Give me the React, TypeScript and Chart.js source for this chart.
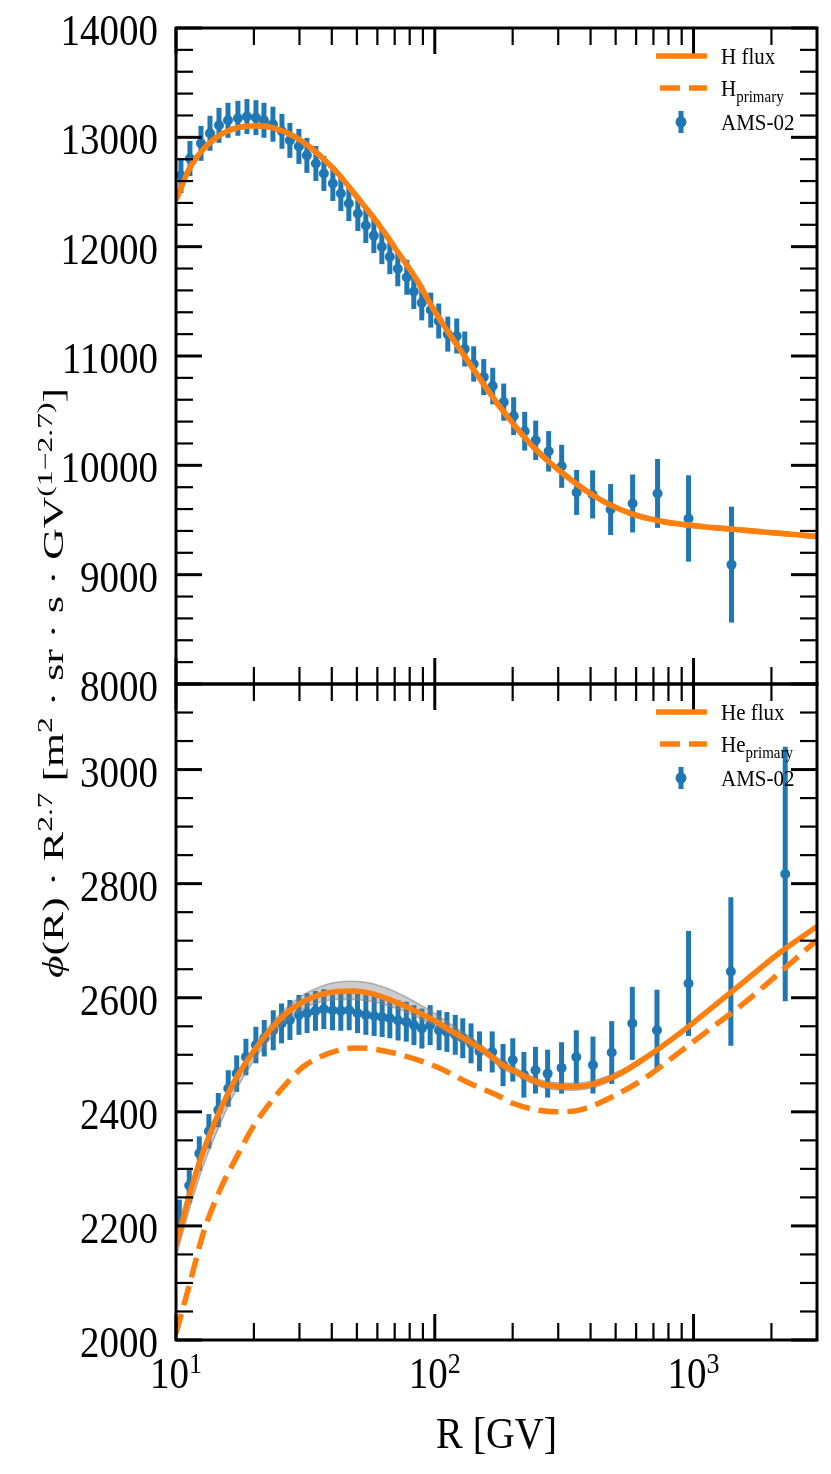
import React, { useEffect, useRef } from 'react';
import { Chart, ChartConfiguration, Plugin, registerables } from 'chart.js';

Chart.register(...registerables);

const BLUE = '#1f77b4';
const ORANGE = '#ff7f0e';
const FONT = '"Liberation Serif", "DejaVu Serif", serif';
// the reference text is slightly stretched vertically
const TEXT_SY = 1.13;

/* ---------- top panel: H ---------- */
const hDataR = [10.45, 11.32, 12.49, 13.53, 14.66, 15.88, 17.35, 18.8, 20.37, 21.87, 23.69, 25.67, 27.55, 29.85, 32.05, 34.72, 37.27, 40.38, 43.36, 46.56, 50.44, 54.15, 58.15, 62.44, 67.04, 71.96, 77.98, 82.98, 89.08, 96.52, 103.6, 112.3, 121.6, 130.6, 141.4, 154.6, 167.5, 184.7, 201.8, 222.6, 245.5, 275.5, 309.3, 353.4, 407.4, 478.1, 581.6, 726.1, 956.6, 1402];
const hDataFlux = [12651, 12807, 12945, 13037, 13110, 13156, 13174, 13190, 13180, 13156, 13120, 13055, 12972, 12917, 12835, 12761, 12670, 12578, 12486, 12394, 12303, 12193, 12101, 12000, 11908, 11798, 11720, 11590, 11486, 11420, 11320, 11200, 11183, 11064, 10927, 10807, 10725, 10578, 10450, 10312, 10229, 10128, 9991, 9752, 9734, 9596, 9651, 9743, 9514, 9092];
const hDataErr = [160, 160, 160, 160, 160, 160, 160, 160, 160, 160, 160, 160, 160, 160, 160, 160, 160, 160, 160, 160, 160, 160, 160, 160, 160, 160, 160, 160, 160, 160, 160, 160, 160, 160, 162, 165, 167, 170, 173, 177, 180, 185, 197, 206, 220, 233, 265, 315, 395, 530];

const hModelR = [10, 11.3, 12.7, 14.8, 17.2, 20.5, 24.5, 29.3, 35, 42, 50, 60, 73, 85, 98, 133, 178, 239, 323, 433, 581, 787, 1055, 1414, 1914, 3000];
const hModelFlux = [12430, 12720, 12886, 13023, 13087, 13105, 13078, 12995, 12858, 12676, 12457, 12219, 11930, 11700, 11443, 10968, 10539, 10174, 9900, 9690, 9553, 9479, 9443, 9416, 9388, 9350];
// H primary lies under the H flux curve
const hPrimaryFlux = [12430, 12720, 12886, 13023, 13087, 13105, 13078, 12995, 12858, 12676, 12457, 12219, 11930, 11700, 11443, 10968, 10539, 10174, 9900, 9690, 9553, 9479, 9443, 9416, 9388, 9350];

/* ---------- bottom panel: He ---------- */
const heDataR = [10.3, 11.25, 12.3, 13.4, 14.57, 15.92, 17.16, 18.63, 20.36, 21.93, 23.76, 25.58, 27.56, 29.86, 32.1, 34.59, 37.26, 40.26, 43.35, 46.69, 50.3, 54.17, 58.31, 62.62, 67.04, 72.14, 77.64, 83.08, 89.19, 96.0, 103.9, 111.4, 120.0, 128.3, 138.1, 148.9, 166.7, 183.6, 200.2, 221.0, 245.0, 273.0, 309.0, 352.3, 408.7, 482.8, 580.0, 722.4, 956.6, 1394, 2261];
const heDataFlux = [2216, 2271, 2327, 2366, 2403, 2441, 2467, 2496, 2517, 2529, 2543, 2555, 2561, 2570, 2573, 2577, 2580, 2578, 2577, 2578, 2573, 2570, 2568, 2566, 2564, 2560, 2558, 2552, 2546, 2552, 2543, 2540, 2535, 2529, 2520, 2506, 2505, 2482, 2491, 2465, 2473, 2467, 2477, 2496, 2482, 2504, 2555, 2543, 2625, 2646, 2817];
const heDataErr = [30, 30, 30, 30, 30, 32, 32, 32, 32, 32, 35, 35, 35, 35, 35, 35, 35, 35, 35, 35, 35, 35, 35, 35, 35, 35, 35, 35, 35, 35, 35, 35, 35, 35, 35, 35, 36, 37, 38, 40, 41, 42, 45, 47, 50, 55, 64, 71, 92, 130, 223];

const heModelR = [10, 11.32, 12.74, 14.79, 17.16, 19.88, 23.06, 26.74, 31, 35.95, 41.7, 48.3, 56, 65, 75.4, 87.4, 101.4, 117.5, 136.3, 158, 178.3, 200, 269.5, 341, 421, 519, 658, 886, 1188, 1594, 2140, 3000];
const heModelFlux = [2166, 2257, 2330, 2403, 2461, 2505, 2543, 2573, 2593, 2605, 2611, 2612, 2608, 2599, 2587, 2573, 2558, 2540, 2523, 2504, 2485, 2473, 2447, 2444, 2450, 2467, 2496, 2538, 2584, 2631, 2678, 2725];
const heBandLo = [2145, 2232, 2305, 2378, 2440, 2488, 2528, 2560, 2581, 2592, 2597, 2597, 2594, 2587, 2577, 2564, 2550, 2533, 2516, 2498, 2479, 2467, 2441, 2438, 2444, 2462, 2491, 2534, 2580, 2628, 2675, 2722];
const heBandHi = [2183, 2270, 2340, 2410, 2467, 2511, 2551, 2583, 2605, 2619, 2627, 2629, 2626, 2617, 2604, 2588, 2571, 2551, 2532, 2511, 2492, 2479, 2453, 2450, 2456, 2472, 2500, 2541, 2587, 2634, 2681, 2728];

const hePrimaryR = [10, 11.32, 12.74, 14.79, 17.16, 19.88, 23.06, 26.74, 31, 35.95, 41.7, 49.8, 56, 75.4, 101.4, 136.3, 178.3, 200, 294, 362, 488, 658, 886, 1188, 1594, 2140, 3000];
const hePrimaryFlux = [2012, 2100, 2187, 2263, 2321, 2374, 2415, 2450, 2479, 2496, 2507, 2512, 2511, 2499, 2479, 2450, 2427, 2415, 2400, 2403, 2427, 2461, 2505, 2549, 2593, 2643, 2701];

/* ---------- axes ---------- */
const xMajor = [10, 100, 1000];
const xMajorExp = ['1', '2', '3'];
const xMinor = [20, 30, 40, 50, 60, 70, 80, 90, 200, 300, 400, 500, 600, 700, 800, 900, 2000];
const topYLabels = [8000, 9000, 10000, 11000, 12000, 13000, 14000];
const botYLabels = [2000, 2200, 2400, 2600, 2800, 3000];

const pts = (xs: number[], ys: number[]) => xs.map((x, i) => ({ x, y: ys[i] }));

type Run = { t: string; size: number; rise?: number; italic?: boolean };
const fontOf = (r: Run) => `${r.italic ? 'italic ' : ''}${r.size}px ${FONT}`;

function runsWidth(ctx: CanvasRenderingContext2D, runs: Run[]) {
    return runs.map((r) => {
        ctx.font = fontOf(r);
        return ctx.measureText(r.t).width;
    });
}

function drawRuns(ctx: CanvasRenderingContext2D, runs: Run[], x: number, y: number, align: 'left' | 'center' | 'right', sx = 1, sy = TEXT_SY) {
    const widths = runsWidth(ctx, runs);
    const total = widths.reduce((a, b) => a + b, 0);
    ctx.save();
    ctx.translate(x, y);
    ctx.scale(sx, sy);
    ctx.textAlign = 'left';
    ctx.textBaseline = 'alphabetic';
    ctx.fillStyle = '#000';
    let cx = align === 'left' ? 0 : align === 'center' ? -total / 2 : -total;
    runs.forEach((r, i) => {
        ctx.font = fontOf(r);
        ctx.fillText(r.t, cx, -(r.rise ?? 0));
        cx += widths[i];
    });
    ctx.restore();
}

function seg(ctx: CanvasRenderingContext2D, x1: number, y1: number, x2: number, y2: number, w: number) {
    ctx.lineWidth = w;
    ctx.beginPath();
    ctx.moveTo(x1, y1);
    ctx.lineTo(x2, y2);
    ctx.stroke();
}

function drawLegend(ctx: CanvasRenderingContext2D, top: number, name: string) {
    const r1 = top + 28;
    const r2 = top + 60;
    const r3 = top + 94;
    ctx.save();
    ctx.lineCap = 'butt';
    ctx.strokeStyle = ORANGE;
    seg(ctx, 656, r1, 707, r1, 5.5);
    ctx.setLineDash([20, 9]);
    seg(ctx, 660, r2, 707, r2, 5.5);
    ctx.setLineDash([]);
    ctx.strokeStyle = BLUE;
    seg(ctx, 681, r3 - 11, 681, r3 + 11, 5);
    ctx.fillStyle = BLUE;
    ctx.beginPath();
    ctx.arc(681, r3, 5.5, 0, Math.PI * 2);
    ctx.fill();
    ctx.restore();
    drawRuns(ctx, [{ t: `${name} flux`, size: 21 }], 721, r1 + 8, 'left');
    drawRuns(ctx, [{ t: name, size: 21 }, { t: 'primary', size: 15, rise: -5 }], 721, r2 + 8, 'left');
    drawRuns(ctx, [{ t: 'AMS-02', size: 21 }], 721, r3 + 8, 'left');
}

const errorSets = [
    { axis: 'yTop', r: hDataR, v: hDataFlux, e: hDataErr },
    { axis: 'yBot', r: heDataR, v: heDataFlux, e: heDataErr },
];

const panelPlugin: Plugin<'line'> = {
    id: 'panels',
    beforeDatasetsDraw(chart) {
        const ctx = chart.ctx;
        const xs = chart.scales.x;
        ctx.save();
        ctx.strokeStyle = BLUE;
        ctx.lineCap = 'butt';
        errorSets.forEach((set) => {
            const ys = chart.scales[set.axis];
            set.r.forEach((r, i) => {
                const px = xs.getPixelForValue(r);
                seg(ctx, px, ys.getPixelForValue(set.v[i] - set.e[i]), px, ys.getPixelForValue(set.v[i] + set.e[i]), 5);
            });
        });
        ctx.restore();
    },
    afterDraw(chart) {
        const ctx = chart.ctx;
        const { left, right } = chart.chartArea;
        const xs = chart.scales.x;
        const panels = [
            { ys: chart.scales.yTop, labels: topYLabels, minorStep: 200 },
            { ys: chart.scales.yBot, labels: botYLabels, minorStep: 50 },
        ];
        ctx.save();
        ctx.strokeStyle = '#000';
        ctx.lineCap = 'butt';
        panels.forEach(({ ys, labels, minorStep }) => {
            const top = ys.top;
            const bottom = ys.bottom;
            // x ticks, inward, top and bottom of each panel
            xMajor.forEach((v) => {
                const px = xs.getPixelForValue(v);
                seg(ctx, px, top, px, top + 26, 3);
                seg(ctx, px, bottom, px, bottom - 26, 3);
            });
            xMinor.forEach((v) => {
                const px = xs.getPixelForValue(v);
                seg(ctx, px, top, px, top + 17, 2.2);
                seg(ctx, px, bottom, px, bottom - 17, 2.2);
            });
            // y ticks, inward, left and right
            const lo = ys.min as number;
            const hi = ys.max as number;
            const majorStep = labels[1] - labels[0];
            for (let v = lo; v <= hi + 1e-6; v += minorStep) {
                const py = ys.getPixelForValue(v);
                const major = Math.abs(v / majorStep - Math.round(v / majorStep)) < 1e-6;
                const len = major ? 26 : 17;
                const w = major ? 3 : 2.2;
                seg(ctx, left, py, left + len, py, w);
                seg(ctx, right, py, right - len, py, w);
            }
            ctx.lineWidth = 3;
            ctx.strokeRect(left, top, right - left, bottom - top);
            labels.forEach((v) => {
                drawRuns(ctx, [{ t: String(v), size: 39 }], 158, ys.getPixelForValue(v) + 17, 'right');
            });
        });
        ctx.restore();

        // x tick labels
        xMajor.forEach((v, i) => {
            drawRuns(ctx, [{ t: '10', size: 39 }, { t: xMajorExp[i], size: 26, rise: 13 }], xs.getPixelForValue(v), 1388, 'center');
        });
        // x title
        drawRuns(ctx, [{ t: 'R [GV]', size: 40 }], (left + right) / 2, 1448, 'center');

        // y title, rotated, spanning both panels
        const yRuns: Run[] = [
            { t: 'ϕ', size: 29, italic: true },
            { t: '(R) · R', size: 29 },
            { t: '2.7', size: 21, rise: 11 },
            { t: ' [m', size: 29 },
            { t: '2', size: 21, rise: 11 },
            { t: ' · sr · s · GV', size: 29 },
            { t: '(1−2.7)', size: 21, rise: 11 },
            { t: ']', size: 29 },
        ];
        const tw = runsWidth(ctx, yRuns).reduce((a, b) => a + b, 0);
        ctx.save();
        ctx.translate(63, 683);
        ctx.rotate(-Math.PI / 2);
        drawRuns(ctx, yRuns, 0, 0, 'center', 590 / tw, 1);
        ctx.restore();

        drawLegend(ctx, chart.scales.yTop.top, 'H');
        drawLegend(ctx, chart.scales.yBot.top, 'He');
    },
};

const hiddenAxis = {
    ticks: { display: false },
    grid: { display: false },
    border: { display: false },
};

const App: React.FC = () => {
    const chartRef = useRef<HTMLCanvasElement | null>(null);

    useEffect(() => {
        document.body.style.margin = '0';
        if (!chartRef.current) return;

        const config: ChartConfiguration<'line'> = {
            type: 'line',
            data: {
                datasets: [
                    // top panel
                    {
                        label: 'AMS-02',
                        data: pts(hDataR, hDataFlux),
                        yAxisID: 'yTop',
                        showLine: false,
                        pointRadius: 5,
                        pointBackgroundColor: BLUE,
                        pointBorderWidth: 0,
                        order: 5,
                    },
                    {
                        label: 'H primary',
                        data: pts(hModelR, hPrimaryFlux),
                        yAxisID: 'yTop',
                        borderColor: ORANGE,
                        borderWidth: 5.5,
                        borderDash: [20, 9],
                        cubicInterpolationMode: 'monotone',
                        pointRadius: 0,
                        order: 3,
                    },
                    {
                        label: 'H flux',
                        data: pts(hModelR, hModelFlux),
                        yAxisID: 'yTop',
                        borderColor: ORANGE,
                        borderWidth: 5.5,
                        cubicInterpolationMode: 'monotone',
                        pointRadius: 0,
                        order: 2,
                    },
                    // bottom panel
                    {
                        label: 'AMS-02',
                        data: pts(heDataR, heDataFlux),
                        yAxisID: 'yBot',
                        showLine: false,
                        pointRadius: 5,
                        pointBackgroundColor: BLUE,
                        pointBorderWidth: 0,
                        order: 5,
                    },
                    {
                        label: 'band low',
                        data: pts(heModelR, heBandLo),
                        yAxisID: 'yBot',
                        borderColor: 'rgba(128,128,128,0.55)',
                        borderWidth: 1.5,
                        cubicInterpolationMode: 'monotone',
                        pointRadius: 0,
                        fill: false,
                        order: 4,
                    },
                    {
                        label: 'band high',
                        data: pts(heModelR, heBandHi),
                        yAxisID: 'yBot',
                        borderColor: 'rgba(128,128,128,0.55)',
                        borderWidth: 1.5,
                        backgroundColor: 'rgba(128,128,128,0.4)',
                        cubicInterpolationMode: 'monotone',
                        pointRadius: 0,
                        fill: '-1',
                        order: 4,
                    },
                    {
                        label: 'He primary',
                        data: pts(hePrimaryR, hePrimaryFlux),
                        yAxisID: 'yBot',
                        borderColor: ORANGE,
                        borderWidth: 5.5,
                        borderDash: [20, 9],
                        cubicInterpolationMode: 'monotone',
                        pointRadius: 0,
                        order: 3,
                    },
                    {
                        label: 'He flux',
                        data: pts(heModelR, heModelFlux),
                        yAxisID: 'yBot',
                        borderColor: ORANGE,
                        borderWidth: 5.5,
                        cubicInterpolationMode: 'monotone',
                        pointRadius: 0,
                        order: 2,
                    },
                ],
            },
            options: {
                animation: false,
                responsive: false,
                layout: { padding: { top: 28, right: 14, left: 0, bottom: 0 } },
                plugins: {
                    legend: { display: false },
                    tooltip: { enabled: false },
                    title: { display: false },
                },
                scales: {
                    x: {
                        type: 'logarithmic',
                        min: 10,
                        max: 3000,
                        ...hiddenAxis,
                        afterFit: (s) => {
                            s.height = 134;
                        },
                    },
                    yBot: {
                        type: 'linear',
                        position: 'left',
                        stack: 'panels',
                        stackWeight: 1,
                        min: 2000,
                        max: 3150,
                        ...hiddenAxis,
                        afterFit: (s) => {
                            s.width = 176;
                        },
                    },
                    yTop: {
                        type: 'linear',
                        position: 'left',
                        stack: 'panels',
                        stackWeight: 1,
                        min: 8000,
                        max: 14000,
                        ...hiddenAxis,
                        afterFit: (s) => {
                            s.width = 176;
                        },
                    },
                },
            },
            plugins: [panelPlugin],
        };

        const chart = new Chart(chartRef.current, config);
        return () => {
            chart.destroy();
        };
    }, []);

    return <canvas ref={chartRef} width={831} height={1474} style={{ display: 'block' }} />;
};

export default App;
